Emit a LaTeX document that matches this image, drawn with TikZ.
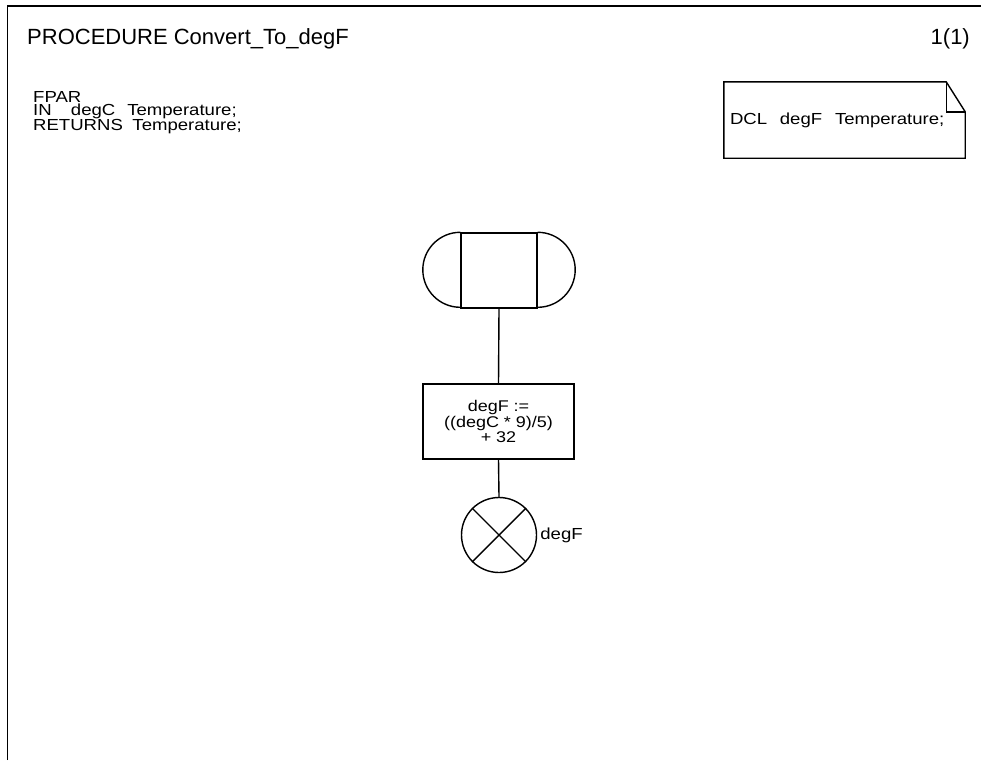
\documentclass[tikz,border=0pt]{standalone}
\usepackage{fontspec}
\setmainfont{Liberation Sans}
\newfontfamily\widefont{Liberation Sans}[FakeStretch=1.16]
\usetikzlibrary{positioning}
\tikzset{
    frame/.style={line width=1.4pt},
    sym/.style={
        draw,
        line width=1.4pt,
        inner sep=0pt
    },
    startsym/.style={
        sym,
        rectangle,
        minimum width=76pt,
        minimum height=75pt
    },
    taskbox/.style={
        sym,
        rectangle,
        minimum width=151pt,
        minimum height=75pt,
        align=center,
        font=\widefont\fontsize{15.5}{15.5}\selectfont
    },
    retsym/.style={
        sym,
        circle,
        minimum size=75pt
    },
    txt/.style={inner sep=0pt, font=\widefont\fontsize{16}{12.8}\selectfont},
    head/.style={inner sep=0pt, font=\fontsize{22}{24}\selectfont},
    flow/.style={line width=1.4pt}
}

\begin{document}
\begin{tikzpicture}[x=1pt,y=-1pt]
\useasboundingbox (0,0) rectangle (981,760);

% page frame
\draw[frame] (7.5,760) -- (7.5,6) -- (981,6);

\node[head, anchor=base west] (title) at (27,45) {PROCEDURE Convert\_To\_degF};
\node[head, anchor=base east] (page) at (970,45) {1(1)};

\node[txt, anchor=north west, align=left] (fpar) at (33,91)
    {FPAR\\IN\hspace{1.2em}degC\hspace{0.75em}Temperature;\\RETURNS\hspace{0.6em}Temperature;};

% text symbol
\node[txt, minimum width=241pt, minimum height=76pt, text width=229pt, align=left] (dcl) at (844.5,120)
    {DCL\hspace{0.8em}degF\hspace{0.8em}Temperature;};
\draw[flow] (dcl.north west) -- ([xshift=-19pt]dcl.north east) -- ([yshift=-30pt]dcl.north east)
    -- (dcl.south east) -- (dcl.south west) -- cycle;
\draw[flow] ([xshift=-19pt]dcl.north east) |- ([yshift=-30pt]dcl.north east);

% procedure start
\node[startsym] (start) at (499,270.5) {};
\draw[flow] (start.north west) arc[start angle=90, end angle=270, radius=37.5pt];
\draw[flow] (start.north east) arc[start angle=90, end angle=-90, radius=37.5pt];

\node[taskbox] (calc) at (498.5,421.5) {degF :=\\((degC * 9)/5)\\+ 32};

\node[retsym] (ret) at (499,535) {};
\draw[flow] (ret.45) -- (ret.225);
\draw[flow] (ret.135) -- (ret.315);
\node[txt, anchor=west, right=3pt of ret] (retval) {degF};

\draw[flow] (start.south) -- (calc.north);
\draw[flow] (calc.south) -- (ret.north);
\end{tikzpicture}
\end{document}
